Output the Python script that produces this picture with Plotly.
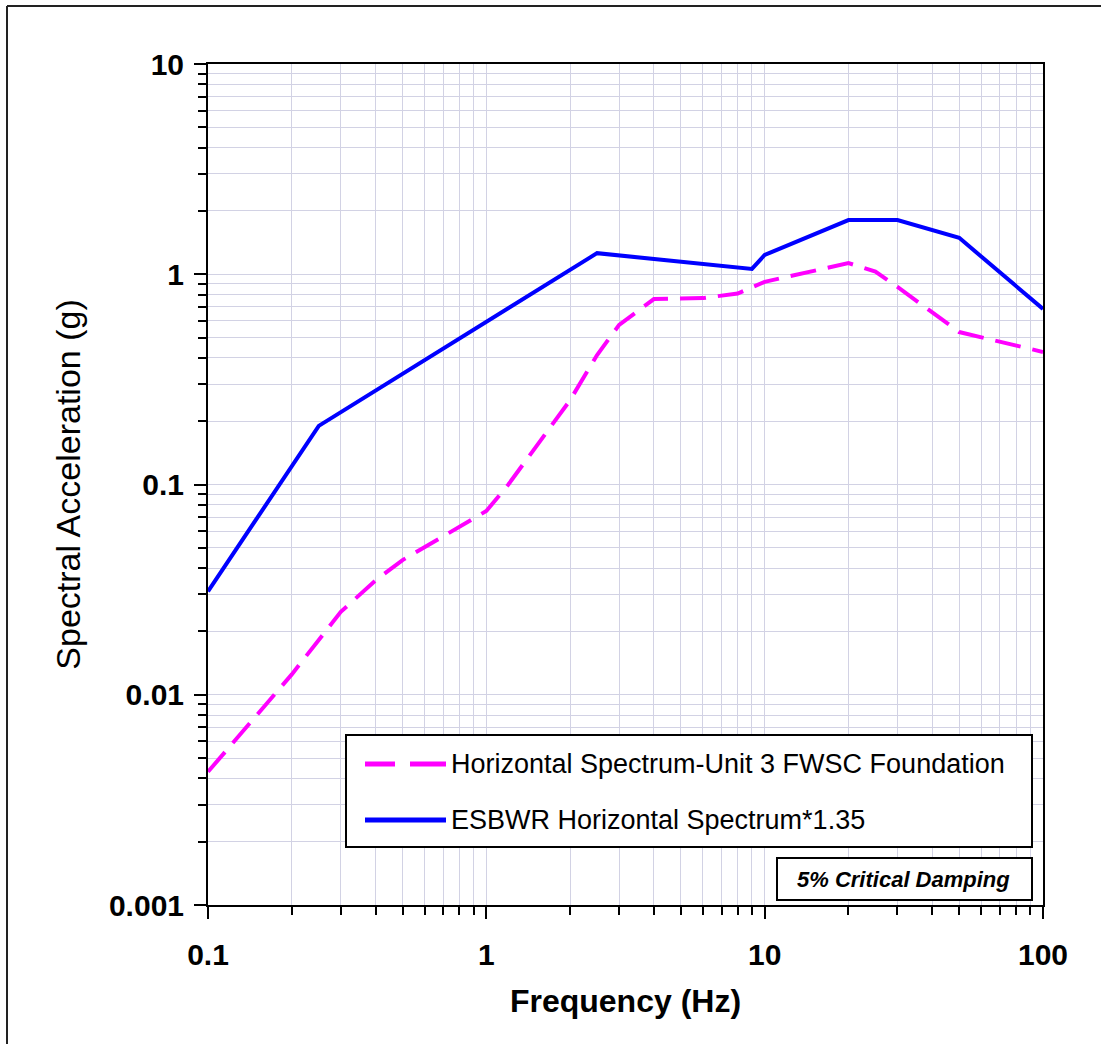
import plotly.graph_objects as go

# ---- data ----
esbwr_freq = [0.1, 0.25, 2.5, 9.0, 10.0, 20.0, 30.0, 50.0, 100.0]
esbwr_sa = [0.031, 0.19, 1.26, 1.06, 1.235, 1.81, 1.81, 1.49, 0.684]

fwsc_freq = [0.1, 0.2, 0.3, 0.4, 0.5, 1.0, 1.2, 2.0, 2.5, 3.0, 4.0, 6.0, 8.0, 10.0, 20.0, 25.0, 30.0, 50.0, 100.0]
fwsc_sa = [0.0043, 0.0125, 0.0248, 0.035, 0.0437, 0.0748, 0.10, 0.252, 0.413, 0.574, 0.762, 0.77, 0.81, 0.92, 1.13, 1.03, 0.87, 0.531, 0.427]

x_major = [0.1, 1, 10, 100]
x_major_text = ["0.1", "1", "10", "100"]
x_minor = [m * d for d in (0.1, 1, 10) for m in range(2, 10)]
y_major = [0.001, 0.01, 0.1, 1, 10]
y_major_text = ["0.001", "0.01", "0.1", "1", "10"]
y_minor = [m * d for d in (0.001, 0.01, 0.1, 1) for m in range(2, 10)]

series_names = ["Horizontal Spectrum-Unit 3 FWSC Foundation", "ESBWR Horizontal Spectrum*1.35"]
note_text = "5% Critical Damping"

MAGENTA = "#ff00ff"
BLUE = "#0000ff"
GRID = "#d2d2e4"
FONT = "Liberation Sans, Arial, sans-serif"

fig = go.Figure()
fig.add_trace(go.Scatter(x=fwsc_freq, y=fwsc_sa, mode="lines", name=series_names[0],
                         line=dict(color=MAGENTA, width=4, dash="26px,12px"), showlegend=False))
fig.add_trace(go.Scatter(x=esbwr_freq, y=esbwr_sa, mode="lines", name=series_names[1],
                         line=dict(color=BLUE, width=4), showlegend=False))

L, T, R, B = 208, 64, 58, 139
W, H = 1101, 1044
pw, ph = W - L - R, H - T - B


def px(x):
    return (x - L) / pw


def py(y):
    return (H - B - y) / ph


axis_common = dict(
    type="log", showline=True, linecolor="black", linewidth=2, mirror=True,
    ticks="outside", ticklen=12, tickwidth=2, tickcolor="black",
    showgrid=True, gridcolor=GRID, gridwidth=1, zeroline=False,
    tickfont=dict(family=FONT, size=30, color="black", weight="bold"),
)

fig.update_xaxes(
    range=[-1, 2], tickmode="array", tickvals=x_major, ticktext=x_major_text,
    minor=dict(tickmode="array", tickvals=x_minor, ticks="outside", ticklen=8,
               tickwidth=2, tickcolor="black", showgrid=True, gridcolor=GRID, gridwidth=1),
    title=dict(text="Frequency (Hz)", standoff=20,
               font=dict(family=FONT, size=32, color="black", weight="bold")),
    ticklabelstandoff=10,
    **axis_common,
)
fig.update_yaxes(
    range=[-3, 1], tickmode="array", tickvals=y_major, ticktext=y_major_text,
    minor=dict(tickmode="array", tickvals=y_minor, ticks="outside", ticklen=8,
               tickwidth=2, tickcolor="black", showgrid=True, gridcolor=GRID, gridwidth=1),
    title=dict(text="Spectral Acceleration (g)", standoff=18,
               font=dict(family=FONT, size=34, color="black")),
    ticklabelstandoff=4,
    **axis_common,
)

shapes = []
# outer picture frame (left and top edges visible)
shapes.append(dict(type="line", xref="paper", yref="paper", x0=px(7), x1=px(7), y0=py(6), y1=py(1044),
                   line=dict(color="#222", width=2)))
shapes.append(dict(type="line", xref="paper", yref="paper", x0=px(7), x1=px(1101), y0=py(6), y1=py(6),
                   line=dict(color="#222", width=2)))
# legend box
shapes.append(dict(type="rect", xref="paper", yref="paper", x0=px(346), x1=px(1032), y0=py(847), y1=py(735),
                   line=dict(color="black", width=2), fillcolor="white", layer="above"))
# legend samples
shapes.append(dict(type="line", xref="paper", yref="paper", x0=px(365), x1=px(395), y0=py(764), y1=py(764),
                   line=dict(color=MAGENTA, width=5), layer="above"))
shapes.append(dict(type="line", xref="paper", yref="paper", x0=px(410), x1=px(446), y0=py(764), y1=py(764),
                   line=dict(color=MAGENTA, width=5), layer="above"))
shapes.append(dict(type="line", xref="paper", yref="paper", x0=px(365), x1=px(446), y0=py(820), y1=py(820),
                   line=dict(color=BLUE, width=5), layer="above"))
# damping note box
shapes.append(dict(type="rect", xref="paper", yref="paper", x0=px(777), x1=px(1032), y0=py(900), y1=py(858),
                   line=dict(color="black", width=2), fillcolor="white", layer="above"))

annotations = [
    dict(xref="paper", yref="paper", x=px(449), y=py(764), xanchor="left", yanchor="middle",
         text=series_names[0], showarrow=False, font=dict(family=FONT, size=27, color="black")),
    dict(xref="paper", yref="paper", x=px(449), y=py(820), xanchor="left", yanchor="middle",
         text=series_names[1], showarrow=False, font=dict(family=FONT, size=27, color="black")),
    dict(xref="paper", yref="paper", x=px(903), y=py(879), xanchor="center", yanchor="middle",
         text="<b><i>" + note_text + "</i></b>", showarrow=False,
         font=dict(family=FONT, size=22, color="black")),
]

fig.update_layout(
    width=W, height=H,
    margin=dict(l=L, r=R, t=T, b=B, pad=0),
    paper_bgcolor="white", plot_bgcolor="white",
    shapes=shapes, annotations=annotations,
    showlegend=False,
)

fig.write_html("out.html")
